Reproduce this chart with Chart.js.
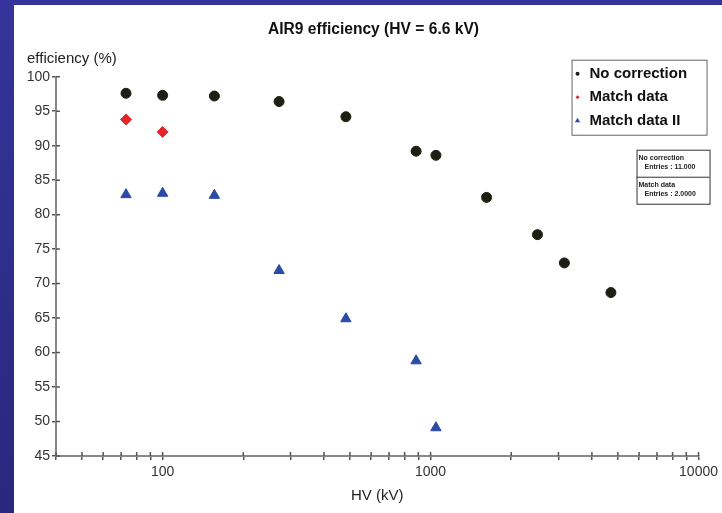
<!DOCTYPE html>
<html>
<head>
<meta charset="utf-8">
<script src="https://cdn.jsdelivr.net/npm/chart.js@4.4.1/dist/chart.umd.min.js"></script>
<style>
  html, body { margin: 0; padding: 0; }
  body {
    width: 722px; height: 513px; overflow: hidden; position: relative;
    background: linear-gradient(#34349a, #28287e);
  }
  #wrap { position: absolute; left: 14px; top: 5px; width: 708px; height: 508px; background: #fff; }
</style>
</head>
<body>
<div id="wrap"><canvas id="chart" width="708" height="508"></canvas></div>
<script>
// values
const hvNoCorrection = [73, 100, 156, 272, 483, 883, 1047, 1618, 2506, 3157, 4710];
const effNoCorrection = [97.6, 97.3, 97.2, 96.4, 94.2, 89.2, 88.6, 82.5, 77.1, 73.0, 68.7];

const hvMatch = [73, 100];
const effMatch = [93.8, 92.0];

const hvMatch2 = [73, 100, 156, 272, 483, 883, 1047];
const effMatch2 = [82.9, 83.1, 82.8, 71.9, 64.9, 58.8, 49.1];

const xTickValues = [40, 50, 60, 70, 80, 90, 100, 200, 300, 400, 500, 600, 700, 800, 900,
  1000, 2000, 3000, 4000, 5000, 6000, 7000, 8000, 9000, 10000];
const xLabelValues = [100, 1000, 10000];
const yTickValues = [45, 50, 55, 60, 65, 70, 75, 80, 85, 90, 95, 100];

const statsLines = [
  ['No correction', 'Entries : 11.000'],
  ['Match data', 'Entries : 2.0000'],
];

const FONT = '"Liberation Sans", Arial, Helvetica, sans-serif';

const toPoints = (xs, ys) => xs.map((x, i) => ({ x, y: ys[i] }));

function drawMarker(ctx, style, r, x, y) {
  if (Chart.helpers && Chart.helpers.drawPoint) {
    Chart.helpers.drawPoint(ctx, { pointStyle: style, radius: r, rotation: 0, borderWidth: 0 }, x, y);
  } else {
    ctx.beginPath();
    ctx.arc(x, y, r, 0, Math.PI * 2);
    ctx.fill();
  }
}

// small ticks that cross the axis line, as in the reference
const crossTicks = {
  id: 'crossTicks',
  afterDraw(chart) {
    const { ctx, chartArea, scales } = chart;
    ctx.save();
    ctx.strokeStyle = '#555';
    ctx.lineWidth = 1.5;
    ctx.beginPath();
    scales.x.ticks.forEach(t => {
      const px = scales.x.getPixelForValue(t.value);
      ctx.moveTo(px, chartArea.bottom);
      ctx.lineTo(px, chartArea.bottom - 4);
    });
    scales.y.ticks.forEach(t => {
      const py = scales.y.getPixelForValue(t.value);
      ctx.moveTo(chartArea.left, py);
      ctx.lineTo(chartArea.left + 4, py);
    });
    ctx.stroke();
    ctx.restore();
  }
};

const yTitle = {
  id: 'yTitle',
  afterDraw(chart) {
    const { ctx, chartArea } = chart;
    ctx.save();
    ctx.font = '15px ' + FONT;
    ctx.fillStyle = '#222';
    ctx.textBaseline = 'middle';
    ctx.fillText('efficiency (%)', chartArea.left - 29, chartArea.top - 18);
    ctx.restore();
  }
};

const boxLegend = {
  id: 'boxLegend',
  afterDraw(chart) {
    const { ctx, chartArea } = chart;
    const x0 = chartArea.right - 127, y0 = chartArea.top - 17, w = 135, h = 75;
    ctx.save();
    ctx.fillStyle = '#fff';
    ctx.fillRect(x0, y0, w, h);
    ctx.strokeStyle = '#666';
    ctx.lineWidth = 1;
    ctx.strokeRect(x0 + 0.5, y0 + 0.5, w, h);
    ctx.font = 'bold 15px ' + FONT;
    ctx.textBaseline = 'middle';
    chart.data.datasets.forEach((ds, i) => {
      const y = y0 + 14 + i * 23.5;
      ctx.fillStyle = ds.backgroundColor;
      drawMarker(ctx, ds.pointStyle, ds.legendRadius, x0 + 6, y);
      ctx.fillStyle = '#111';
      ctx.fillText(ds.label, x0 + 18, y);
    });
    ctx.restore();
  }
};

const statsBox = {
  id: 'statsBox',
  afterDraw(chart) {
    const { ctx, chartArea } = chart;
    const x0 = chartArea.right - 62, y0 = chartArea.top + 73, w = 73, h = 54;
    ctx.save();
    ctx.fillStyle = '#fff';
    ctx.fillRect(x0, y0, w, h);
    ctx.strokeStyle = '#333';
    ctx.lineWidth = 1;
    ctx.strokeRect(x0 + 0.5, y0 + 0.5, w, h);
    ctx.beginPath();
    ctx.moveTo(x0, y0 + 27.5);
    ctx.lineTo(x0 + w, y0 + 27.5);
    ctx.stroke();
    ctx.fillStyle = '#222';
    ctx.font = 'bold 7px ' + FONT;
    ctx.textBaseline = 'middle';
    statsLines.forEach((pair, i) => {
      const yy = y0 + 8 + i * 27;
      ctx.fillText(pair[0], x0 + 2, yy);
      ctx.fillText(pair[1], x0 + 8, yy + 9.5);
    });
    ctx.restore();
  }
};

new Chart(document.getElementById('chart'), {
  type: 'scatter',
  data: {
    datasets: [
      {
        label: 'No correction',
        data: toPoints(hvNoCorrection, effNoCorrection),
        pointStyle: 'circle',
        pointRadius: 5,
        backgroundColor: '#1e1e12',
        borderColor: '#1e1e12',
        borderWidth: 1,
        legendRadius: 2,
      },
      {
        label: 'Match data',
        data: toPoints(hvMatch, effMatch),
        pointStyle: 'rectRot',
        pointRadius: 5.5,
        backgroundColor: '#e3262b',
        borderColor: '#e3262b',
        borderWidth: 1,
        legendRadius: 2,
      },
      {
        label: 'Match data II',
        data: toPoints(hvMatch2, effMatch2),
        pointStyle: 'triangle',
        pointRadius: 6,
        backgroundColor: '#2a4aa6',
        borderColor: '#2a4aa6',
        borderWidth: 1,
        legendRadius: 3,
      },
    ],
  },
  options: {
    responsive: false,
    animation: false,
    layout: { padding: { left: 11, right: 0, top: 0, bottom: 0 } },
    plugins: {
      legend: { display: false },
      tooltip: { enabled: false },
      title: {
        display: true,
        text: 'AIR9 efficiency (HV = 6.6 kV)',
        color: '#111',
        font: { family: FONT, size: 15.6, weight: 'bold' },
        padding: { top: 15, bottom: 38 },
      },
    },
    scales: {
      x: {
        type: 'logarithmic',
        min: 40,
        max: 10000,
        afterBuildTicks: s => { s.ticks = xTickValues.map(v => ({ value: v, major: xLabelValues.includes(v) })); },
        afterFit: s => { s.height = 57; },
        ticks: {
          autoSkip: false,
          maxRotation: 0,
          minRotation: 0,
          padding: 4,
          color: '#333',
          font: { family: FONT, size: 14 },
          callback: v => (xLabelValues.includes(v) ? String(v) : ''),
        },
        grid: { drawOnChartArea: false, drawTicks: true, tickLength: 4, color: '#555', lineWidth: 1.5 },
        border: { display: true, color: '#888', width: 2 },
        title: {
          display: true,
          text: 'HV (kV)',
          color: '#222',
          font: { family: FONT, size: 15 },
          padding: { top: 4, bottom: 8 },
        },
      },
      y: {
        type: 'linear',
        min: 45,
        max: 100,
        afterBuildTicks: s => { s.ticks = yTickValues.map(v => ({ value: v })); },
        afterFit: s => { s.width = 31; },
        ticks: {
          autoSkip: false,
          padding: 2,
          color: '#333',
          font: { family: FONT, size: 14 },
        },
        grid: { drawOnChartArea: false, drawTicks: true, tickLength: 4, color: '#555', lineWidth: 1.5 },
        border: { display: true, color: '#888', width: 2 },
      },
    },
  },
  plugins: [crossTicks, yTitle, boxLegend, statsBox],
});
</script>
</body>
</html>
